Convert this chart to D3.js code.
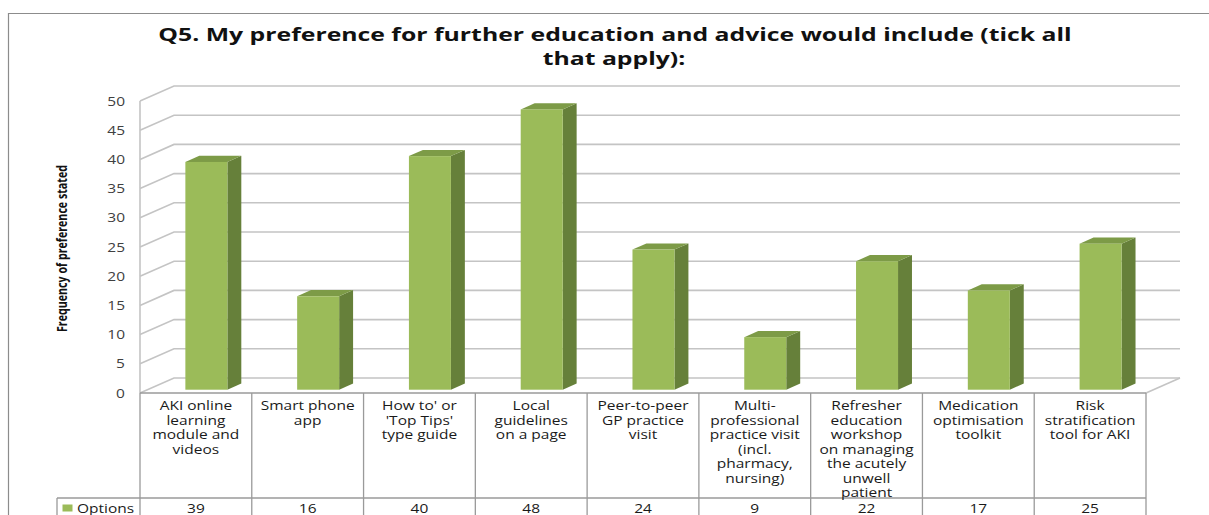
<!DOCTYPE html>
<html>
<head>
<meta charset="utf-8">
<script src="https://cdn.jsdelivr.net/npm/d3@7"></script>
<style>
  html, body { margin: 0; padding: 0; background: #fff; }
  svg { display: block; }
  text { font-family: "Open Sans", "DejaVu Sans", sans-serif; }
</style>
</head>
<body>
<svg id="chart" width="1209" height="515"></svg>
<script>
// ---- data ----
const titleLines = ["Q5. My preference for further education and advice would include (tick all", "that apply):"];
const yAxisTitle = "Frequency of preference stated";
const seriesName = "Options";
const categories = [
  "AKI online learning module and videos",
  "Smart phone app",
  "How to' or 'Top Tips' type guide",
  "Local guidelines on a page",
  "Peer-to-peer GP practice visit",
  "Multi-professional practice visit (incl. pharmacy, nursing)",
  "Refresher education workshop on managing the acutely unwell patient",
  "Medication optimisation toolkit",
  "Risk stratification tool for AKI"
];
const categoryLines = [
  ["AKI online", "learning", "module and", "videos"],
  ["Smart phone", "app"],
  ["How to' or", "'Top Tips'", "type guide"],
  ["Local", "guidelines", "on a page"],
  ["Peer-to-peer", "GP practice", "visit"],
  ["Multi-", "professional", "practice visit", "(incl.", "pharmacy,", "nursing)"],
  ["Refresher", "education", "workshop", "on managing", "the acutely", "unwell", "patient"],
  ["Medication", "optimisation", "toolkit"],
  ["Risk", "stratification", "tool for AKI"]
];
const values = [39, 16, 40, 48, 24, 9, 22, 17, 25];
const yTicks = [0, 5, 10, 15, 20, 25, 30, 35, 40, 45, 50];

// ---- layout ----
const svg = d3.select("#chart");
const plotLeft = 140, plotRight = 1146;
const y0 = 393, yTop = 101;
const depth = { dx: 34, dy: -15 };
const barFront = 0.22, barBack = 0.63;
const barW = 42, barShift = 3;
const tableRowY = 498, tableBottom = 520, legendLeft = 57;
const textSX = 1.24;

const colFront = "#9bbb59", colSide = "#66803a", colTop = "#7d9b47";
const gridCol = "#c4c4c4", tableCol = "#9a9a9a";

const x = d3.scaleBand().domain(categories).range([plotLeft, plotRight]).padding(0);
const y = d3.scaleLinear().domain([0, 50]).range([y0, yTop]);

// outer border
svg.append("path").attr("d", "M8.5,515 L8.5,13.5 L1209,13.5")
  .attr("fill", "none").attr("stroke", "#8c8c8c").attr("stroke-width", 1.2);

function stretchedText(g, str, tx, ty, anchor, sx) {
  return g.append("text")
    .attr("transform", `translate(${tx},${ty}) scale(${sx},1)`)
    .attr("text-anchor", anchor)
    .text(str);
}

// title
const tg = svg.append("g").attr("font-weight", "bold").attr("font-size", 18.5).attr("fill", "#111");
const t1 = stretchedText(tg, titleLines[0], 615, 41, "middle", 1);
const w1 = t1.node().getComputedTextLength();
const tsx = 914 / w1;
t1.attr("transform", `translate(615,41) scale(${tsx},1)`);
stretchedText(tg, titleLines[1], 614, 64.5, "middle", tsx);

// gridlines (side wall + back wall)
const grid = svg.append("g").attr("stroke", gridCol).attr("stroke-width", 1.6).attr("fill", "none");
yTicks.forEach(t => {
  const yy = y(t);
  grid.append("path").attr("d",
    `M${plotLeft},${yy} L${plotLeft + depth.dx},${yy + depth.dy} L${plotRight + depth.dx},${yy + depth.dy}`);
});
// front axis line
grid.append("line").attr("x1", plotLeft).attr("x2", plotLeft).attr("y1", y(50)).attr("y2", y0);
// floor right edge
grid.append("line").attr("x1", plotRight).attr("y1", y0).attr("x2", plotRight + depth.dx).attr("y2", y0 + depth.dy);

// y tick labels
const yl = svg.append("g").attr("font-size", 12.5).attr("fill", "#404040");
yTicks.forEach(t => {
  stretchedText(yl, String(t), 125, y(t) + 4.5, "end", textSX);
});

// y axis title
svg.append("text")
  .attr("transform", `translate(67,248.5) rotate(-90)`)
  .attr("text-anchor", "middle")
  .attr("font-family", "'Liberation Sans Narrow', 'DejaVu Sans Condensed', 'Open Sans', sans-serif")
  .attr("font-weight", "bold")
  .attr("font-size", 14)
  .attr("fill", "#111")
  .attr("textLength", 167)
  .attr("lengthAdjust", "spacingAndGlyphs")
  .text(yAxisTitle);

// bars
const bars = svg.append("g");
const bdx = (barBack - barFront) * depth.dx, bdy = (barBack - barFront) * depth.dy;
categories.forEach((c, i) => {
  const v = values[i];
  const cx = x(c) + x.bandwidth() / 2 + barShift;
  const fl = cx - barW / 2 + barFront * depth.dx;
  const fr = fl + barW;
  const fb = y(0) + barFront * depth.dy;
  const ft = y(v) + barFront * depth.dy;
  const g = bars.append("g");
  g.append("polygon").attr("fill", colSide)
    .attr("points", `${fr},${ft} ${fr + bdx},${ft + bdy} ${fr + bdx},${fb + bdy} ${fr},${fb}`);
  g.append("polygon").attr("fill", colTop)
    .attr("points", `${fl},${ft} ${fl + bdx},${ft + bdy} ${fr + bdx},${ft + bdy} ${fr},${ft}`);
  g.append("rect").attr("fill", colFront)
    .attr("x", fl).attr("y", ft).attr("width", barW).attr("height", fb - ft);
});

// data table
const tbl = svg.append("g").attr("stroke", tableCol).attr("stroke-width", 1.3).attr("fill", "none");
tbl.append("line").attr("x1", plotLeft).attr("x2", plotRight).attr("y1", y0).attr("y2", y0);
tbl.append("line").attr("x1", legendLeft).attr("x2", plotRight).attr("y1", tableRowY).attr("y2", tableRowY);
tbl.append("line").attr("x1", legendLeft).attr("x2", legendLeft).attr("y1", tableRowY).attr("y2", tableBottom);
categories.forEach(c => {
  tbl.append("line").attr("x1", x(c)).attr("x2", x(c)).attr("y1", y0).attr("y2", tableBottom);
});
tbl.append("line").attr("x1", plotRight).attr("x2", plotRight).attr("y1", y0).attr("y2", tableBottom);

const labels = svg.append("g").attr("font-size", 12.5).attr("fill", "#1a1a1a");
categories.forEach((c, i) => {
  const cx = x(c) + x.bandwidth() / 2;
  categoryLines[i].forEach((ln, j) => {
    stretchedText(labels, ln, cx, 410 + j * 14.5, "middle", textSX);
  });
  stretchedText(labels, String(values[i]), cx, 512.5, "middle", textSX);
});

// legend key in table
svg.append("rect").attr("x", 62.5).attr("y", 504.5).attr("width", 10).attr("height", 7).attr("fill", colFront);
stretchedText(labels, seriesName, 77, 512.5, "start", textSX);
</script>
</body>
</html>
